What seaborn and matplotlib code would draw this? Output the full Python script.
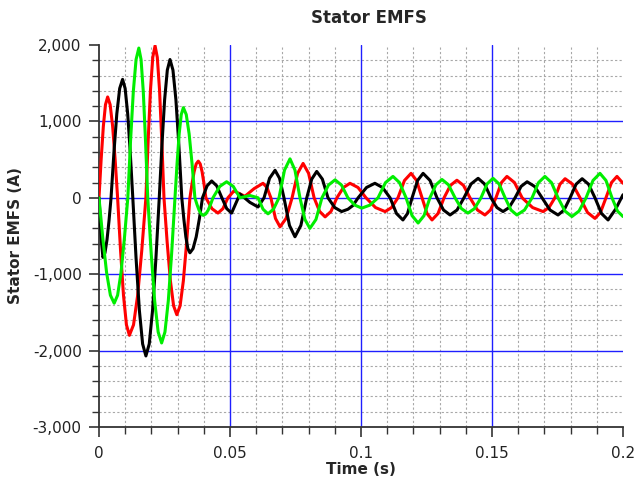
import numpy as np
import pandas as pd
import matplotlib
matplotlib.use("Agg")
import matplotlib.pyplot as plt
from matplotlib.ticker import MultipleLocator, FuncFormatter
import seaborn as sns

title = "Stator EMFS"
x_label = "Time (s)"
y_label = "Stator EMFS (A)"

red_t = [0.0000, 0.000825, 0.00165, 0.002475, 0.0033, 0.00425, 0.0052, 0.00615, 0.0071,
         0.008225, 0.00935, 0.010475, 0.0116, 0.013175, 0.01475, 0.016325, 0.0179,
         0.018775, 0.01965, 0.020525, 0.0214, 0.02225, 0.0231, 0.02395, 0.0248,
         0.026025, 0.02725, 0.028475, 0.0297, 0.03095, 0.0322, 0.03345, 0.0347,
         0.0355, 0.0363, 0.0371, 0.0379, 0.038625, 0.03935, 0.040075, 0.0408,
         0.0431, 0.0454, 0.0473, 0.0492, 0.0515, 0.0557, 0.0592, 0.0626, 0.0641, 0.0656, 0.06735, 0.0691,
         0.0714, 0.0737, 0.0758, 0.0779, 0.0800, 0.0821, 0.0842, 0.0863, 0.08855, 0.0908, 0.0933,
         0.0958, 0.09885, 0.1019, 0.10555, 0.1092, 0.11165, 0.1141, 0.1166, 0.1191, 0.1212, 0.1233,
         0.1252, 0.1271, 0.1294, 0.1317, 0.13415, 0.1366, 0.1391, 0.1416, 0.14445, 0.1473, 0.1494,
         0.1515, 0.1536, 0.1557, 0.1586, 0.1615, 0.1655, 0.1695, 0.17175, 0.1740, 0.17595, 0.1779,
         0.18075, 0.1836, 0.18645, 0.1893, 0.1914, 0.1935, 0.1956, 0.1977, 0.2000]
red_v = [0, 505, 933, 1220, 1320, 1220, 937, 505, 0,
         -689, -1278, -1663, -1800, -1663, -1278, -689, 0,
         762, 1413, 1839, 1990, 1839, 1413, 762, 0,
         -586, -1086, -1414, -1530, -1414, -1086, -586, 0,
         184, 341, 444, 480, 444, 341, 184, 0,
         -142, -200, -142, 0, 90, 20, 120, 190, 135, 0, -270, -380,
         -270, 0, 320, 450, 320, 0, -178, -250, -178, 0, 135,
         190, 135, 0, -128, -180, -128, 0, 227, 320, 227, 0,
         -206, -290, -206, 0, 163, 230, 163, 0, -160, -225, -160,
         0, 199, 280, 199, 0, -128, -180, -128, 0, 178, 250,
         178, 0, -192, -270, -192, 0, 199, 280, 190]

black_t = [0.0000, 0.0005, 0.0010, 0.0015, 0.002275, 0.00305, 0.003825, 0.0046,
           0.0057, 0.0068, 0.0079, 0.0090, 0.009975, 0.01095, 0.011925, 0.0129,
           0.01415, 0.0154, 0.01665, 0.0179, 0.019175, 0.02045, 0.021725, 0.0230,
           0.024025, 0.02505, 0.026075, 0.0271, 0.028225, 0.02935, 0.030475, 0.0316,
           0.032375, 0.03315, 0.033925, 0.0347, 0.0359, 0.0371, 0.0383, 0.0395,
           0.04125, 0.0430,
           0.04495, 0.0469, 0.04875, 0.0506, 0.0538, 0.0576, 0.0607, 0.0630, 0.0651, 0.0672, 0.0689,
           0.0706, 0.0727, 0.0748, 0.07705, 0.0793, 0.0812, 0.0831, 0.08525, 0.0874, 0.0900, 0.0926,
           0.0950, 0.09695, 0.0989, 0.1021, 0.1053, 0.1082, 0.1111, 0.11355, 0.1160, 0.11775, 0.1195,
           0.1216, 0.1237, 0.12635, 0.1290, 0.1315, 0.1340, 0.13665, 0.1393, 0.1420, 0.1447, 0.14715,
           0.1496, 0.1519, 0.1542, 0.1565, 0.1588, 0.1611, 0.1634, 0.16625, 0.1691, 0.17215, 0.1752,
           0.1775, 0.1798, 0.1821, 0.1844, 0.18685, 0.1893, 0.1918, 0.1943, 0.19715, 0.2000]
black_v = [0, -300, -600, -780, -721, -551, -299, 0,
           594, 1100, 1432, 1550, 1432, 1100, 594, 0,
           -793, -1470, -1913, -2070, -1913, -1470, -793, 0,
           693, 1285, 1672, 1810, 1672, 1285, 693, 0,
           -276, -511, -665, -720, -665, -511, -276, 0,
           156, 220,
           156, 0, -142, -200, 50, -60, -120, 0, 256, 360, 256,
           0, -362, -510, -362, 0, 245, 345, 245, 0, -128, -180,
           -150, -100, 0, 135, 190, 135, 0, -206, -290, -206, 0,
           227, 320, 227, 0, -160, -225, -160, 0, 181, 255, 181,
           0, -128, -180, -128, 0, 149, 210, 149, 0, -160, -225,
           -160, 0, 178, 250, 178, 0, -206, -290, -150, 40]

green_t = [0.0000, 0.00145, 0.0029, 0.00435, 0.0058, 0.0071, 0.0084, 0.0097, 0.0110,
           0.01205, 0.0131, 0.01415, 0.0152, 0.01605, 0.0169, 0.01775, 0.0186,
           0.019925, 0.02125, 0.022575, 0.0239, 0.025175, 0.02645, 0.027725, 0.0290,
           0.0298, 0.0306, 0.0314, 0.0322, 0.0333, 0.0344, 0.0355, 0.0366,
           0.0374, 0.0382, 0.0390, 0.0398, 0.040725, 0.04165, 0.042575, 0.0435,
           0.0461, 0.0487, 0.05125, 0.0538, 0.0576, 0.0607, 0.0626, 0.0645, 0.0666, 0.0687, 0.0708, 0.0729,
           0.0748, 0.0767, 0.0786, 0.0805, 0.0828, 0.0851, 0.0876, 0.0901, 0.09255, 0.0950, 0.09765,
           0.1003, 0.1034, 0.1065, 0.10935, 0.1122, 0.1147, 0.1172, 0.1195, 0.1218, 0.12405, 0.1263,
           0.1286, 0.1309, 0.1334, 0.1359, 0.13835, 0.1408, 0.1433, 0.1458, 0.1481, 0.1504, 0.1527,
           0.1550, 0.15725, 0.1595, 0.1624, 0.1653, 0.16775, 0.1702, 0.1727, 0.1752, 0.17785, 0.1805,
           0.1832, 0.1859, 0.18855, 0.1912, 0.1935, 0.1958, 0.1979, 0.2000]
green_v = [0, -529, -980, -1275, -1380, -1275, -980, -529, 0,
           751, 1392, 1811, 1960, 1811, 1392, 751, 0,
           -728, -1349, -1756, -1900, -1756, -1349, -728, 0,
           452, 838, 1090, 1180, 1090, 838, 452, 0,
           -88, -163, -212, -230, -212, -163, -88, 0,
           149, 210, 149, 0, 30, 0, -149, -210, -149, 0, 362, 510,
           362, 0, -284, -400, -284, 0, 167, 235, 167, 0, -96,
           -135, -96, 0, 199, 280, 199, 0, -234, -330, -234, 0,
           170, 240, 170, 0, -142, -200, -142, 0, 181, 255, 181,
           0, -160, -225, -160, 0, 199, 280, 199, 0, -174, -245,
           -174, 0, 227, 320, 227, 0, -174, -245]

phase_names = ["A", "B", "C"]
phase_colors = ["#ff0000", "#000000", "#00ee00"]

frames = []
for name, t, v in zip(phase_names, [red_t, black_t, green_t], [red_v, black_v, green_v]):
    frames.append(pd.DataFrame({"time": t, "value": v, "phase": name}))
df = pd.concat(frames, ignore_index=True)

sns.set_style("white")
plt.rcParams["font.family"] = ["DejaVu Sans"]

fig = plt.figure(figsize=(6.37, 4.84), dpi=100)
ax = fig.add_axes([99 / 637, 1 - 427 / 484, (623 - 99) / 637, (427 - 45) / 484])

ax.set_xlim(0, 0.2)
ax.set_ylim(-3000, 2000)

ax.xaxis.set_major_locator(MultipleLocator(0.05))
ax.xaxis.set_minor_locator(MultipleLocator(0.01))
ax.yaxis.set_major_locator(MultipleLocator(1000))
ax.yaxis.set_minor_locator(MultipleLocator(200))

ax.grid(False)
ax.grid(which="minor", color="#a8a8a8", linestyle=(0, (2, 2)), linewidth=0.8)
for yv in [-2000, -1000, 0, 1000]:
    ax.axhline(yv, color="#1f1fff", linewidth=1.0, zorder=1.5)
for xv in [0.05, 0.1, 0.15]:
    ax.axvline(xv, color="#1f1fff", linewidth=1.0, zorder=1.5)

sns.lineplot(data=df, x="time", y="value", hue="phase", palette=phase_colors,
             estimator=None, sort=False, linewidth=2.2, legend=False, ax=ax, zorder=3)

def fmt_x(v, pos):
    s = f"{v:.2f}".rstrip("0").rstrip(".")
    return s

ax.xaxis.set_major_formatter(FuncFormatter(fmt_x))
ax.yaxis.set_major_formatter(FuncFormatter(lambda v, p: f"{v:,.0f}".replace("\u2212", "-")))

for s in ["top", "right"]:
    ax.spines[s].set_visible(False)
for s in ["left", "bottom"]:
    ax.spines[s].set_color("#333333")
    ax.spines[s].set_linewidth(1.3)

ax.tick_params(which="major", direction="out", length=7, width=1.2, color="#333333",
               labelsize=11, labelcolor="#222222")
ax.tick_params(which="minor", direction="out", length=5, width=1.0, color="#333333")
ax.tick_params(axis="x", which="major", pad=6.5)
ax.tick_params(axis="y", which="major", pad=5.5)
ax.tick_params(axis="both", which="both", left=True, bottom=True)

ax.set_xlabel(x_label, fontsize=11, fontweight="bold", labelpad=1)
ax.set_ylabel(y_label, fontsize=11, fontweight="bold", labelpad=7)
fig.text(369 / 637, 1 - 18 / 484, title, ha="center", va="center", fontsize=12, fontweight="bold")

fig.savefig("out.png", dpi=100)
